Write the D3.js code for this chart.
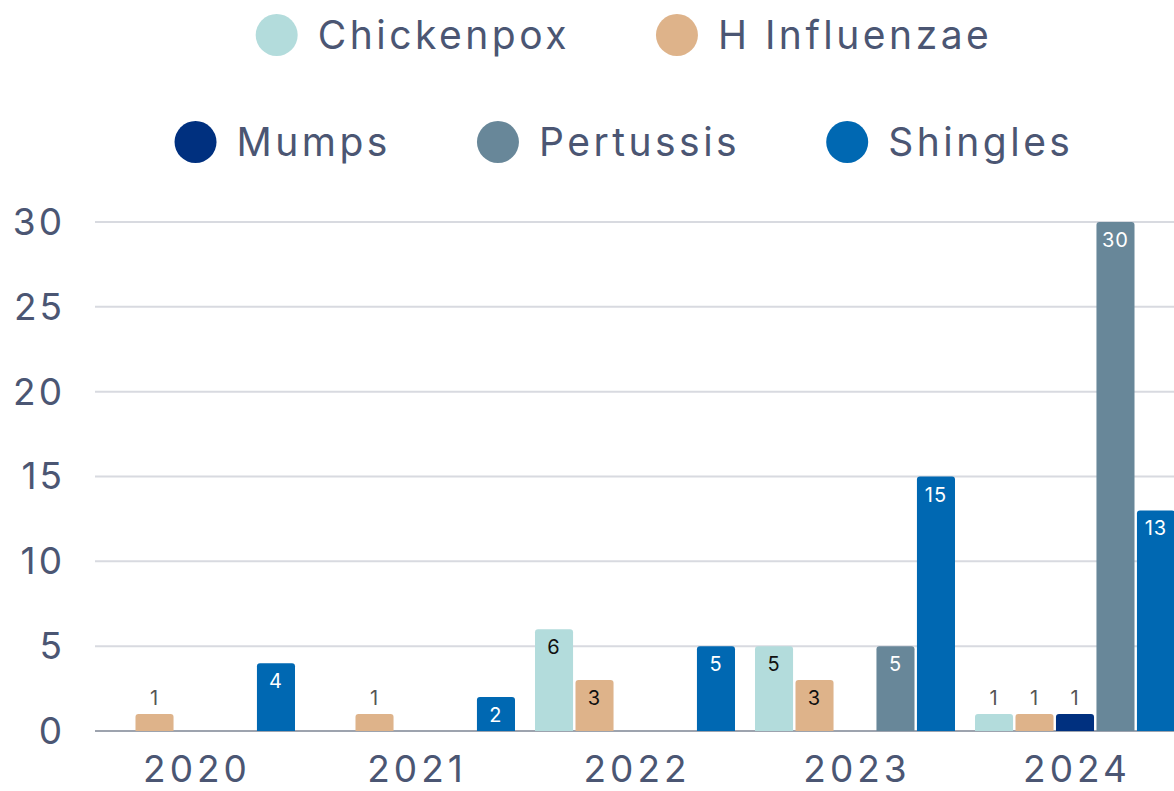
<!DOCTYPE html>
<html>
<head>
<meta charset="utf-8">
<script src="https://cdn.jsdelivr.net/npm/d3@7"></script>
<style>
  html, body { margin: 0; padding: 0; background: #fff; }
  svg { display: block; font-family: "Inter", "Noto Sans", sans-serif; }
</style>
</head>
<body>
<div id="chart"></div>
<script>
// data
const years = ["2020", "2021", "2022", "2023", "2024"];
const seriesNames = ["Chickenpox", "H Influenzae", "Mumps", "Pertussis", "Shingles"];
const chickenpox = [0, 0, 6, 5, 1];
const hInfluenzae = [1, 1, 3, 3, 1];
const mumps = [0, 0, 0, 0, 1];
const pertussis = [0, 0, 0, 5, 30];
const shingles = [4, 2, 5, 15, 13];
const yTicks = [0, 5, 10, 15, 20, 25, 30];

const colors = ["#b3dcdc", "#deb38a", "#00307f", "#688799", "#0068b2"];
const labelColors = ["#111", "#111", "#fff", "#fff", "#fff"];
const values = [chickenpox, hInfluenzae, mumps, pertussis, shingles];

const width = 1174, height = 791;
const textColor = "#4b5673";

const svg = d3.select("#chart").append("svg")
  .attr("width", width)
  .attr("height", height);

// scales
const x0 = d3.scaleBand().domain(years).range([85, 1185]).padding(0);
const x1 = d3.scaleBand().domain(seriesNames).range([10, 210]).paddingInner(0.06);
const y = d3.scaleLinear().domain([0, 30]).range([731, 222]);

// gridlines
svg.append("g")
  .selectAll("line")
  .data(yTicks)
  .join("line")
  .attr("x1", 95)
  .attr("x2", width)
  .attr("y1", d => y(d))
  .attr("y2", d => y(d))
  .attr("stroke", d => d === 0 ? "#9da3ae" : "#d8dae0")
  .attr("stroke-width", 2);

// y axis labels
svg.append("g")
  .selectAll("text")
  .data(yTicks)
  .join("text")
  .attr("x", 65)
  .attr("y", d => y(d))
  .attr("dy", "0.35em")
  .attr("text-anchor", "end")
  .attr("fill", textColor)
  .style("font-size", "37px")
  .style("letter-spacing", "3px")
  .text(d => d);

// x axis labels
svg.append("g")
  .selectAll("text")
  .data(years)
  .join("text")
  .attr("x", d => x0(d) + x0.bandwidth() / 2 + 2)
  .attr("y", 782)
  .attr("text-anchor", "middle")
  .attr("fill", textColor)
  .style("font-size", "37px")
  .style("letter-spacing", "4px")
  .text(d => d);

// flatten into bar records
const bars = [];
years.forEach((yr, i) => {
  seriesNames.forEach((s, j) => {
    bars.push({ year: yr, series: s, si: j, value: values[j][i] });
  });
});

const shown = bars.filter(d => d.value > 0);

// bars, rounded on top only
const r = 3;
svg.append("g")
  .selectAll("path")
  .data(shown)
  .join("path")
  .attr("fill", d => colors[d.si])
  .attr("d", d => {
    const bx = x0(d.year) + x1(d.series);
    const bw = x1.bandwidth();
    const top = y(d.value);
    const bot = y(0);
    return `M${bx},${bot} V${top + r} Q${bx},${top} ${bx + r},${top} H${bx + bw - r} Q${bx + bw},${top} ${bx + bw},${top + r} V${bot} Z`;
  });

// value labels
svg.append("g")
  .selectAll("text")
  .data(shown)
  .join("text")
  .attr("x", d => x0(d.year) + x1(d.series) + x1.bandwidth() / 2)
  .attr("y", d => d.value <= 1 ? y(d.value) - 9 : y(d.value) + 25)
  .attr("text-anchor", "middle")
  .attr("fill", d => d.value <= 1 ? "#555" : labelColors[d.si])
  .style("font-size", "20px")
  .style("letter-spacing", "1px")
  .text(d => d.value);

// legend, two centred rows
const rows = [[0, 1], [2, 3, 4]];
const rowY = [35, 142];
const legendCenter = 624;
rows.forEach((row, ri) => {
  const g = svg.append("g");
  let cx = 0;
  row.forEach((si, k) => {
    const item = g.append("g").attr("transform", `translate(${cx},0)`);
    item.append("circle")
      .attr("cx", 21)
      .attr("cy", rowY[ri])
      .attr("r", 21)
      .attr("fill", colors[si]);
    const t = item.append("text")
      .attr("x", 62)
      .attr("y", rowY[ri])
      .attr("dy", "0.35em")
      .attr("fill", textColor)
      .style("font-size", "39px")
      .style("letter-spacing", "3.5px")
      .text(seriesNames[si]);
    cx += 62 + t.node().getComputedTextLength() + (k < row.length - 1 ? 86 : 0);
  });
  g.attr("transform", `translate(${legendCenter - cx / 2},0)`);
});
</script>
</body>
</html>
